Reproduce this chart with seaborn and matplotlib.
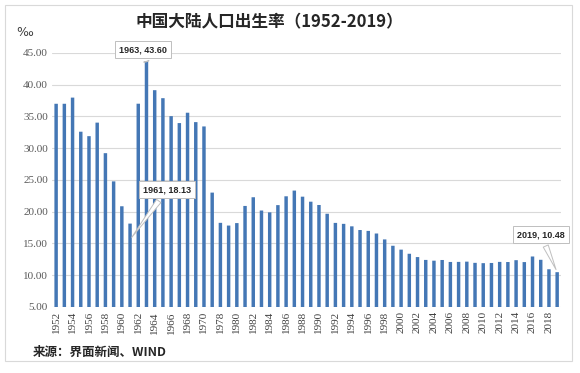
import numpy as np
import pandas as pd
import matplotlib
matplotlib.use("Agg")
import matplotlib.pyplot as plt
import seaborn as sns
from matplotlib.patches import Rectangle

# birth rate (per mille), mainland China; 1971-1974 and 1976-1977 are not in the source chart
years = list(range(1952, 1971)) + [1975] + list(range(1978, 2020))
rates = [37.00, 37.00, 37.97, 32.60, 31.90, 34.03, 29.22, 24.78, 20.86, 18.13,
         37.01, 43.60, 39.14, 37.88, 35.05, 33.96, 35.59, 34.11, 33.43,
         23.01,
         18.25, 17.82, 18.21, 20.91, 22.28, 20.19, 19.90, 21.04, 22.43, 23.33,
         22.37, 21.58, 21.06, 19.68, 18.24, 18.09, 17.70, 17.12, 16.98, 16.57,
         15.64, 14.64, 14.03, 13.38, 12.86, 12.41, 12.29, 12.40, 12.09, 12.10,
         12.14, 11.95, 11.90, 11.93, 12.10, 12.08, 12.37, 12.07, 12.95, 12.43,
         10.94, 10.48]
callouts = [(1963, 43.60), (1961, 18.13), (2019, 10.48)]
yticks = [5, 10, 15, 20, 25, 30, 35, 40, 45]

df = pd.DataFrame({"year": [str(y) for y in years], "rate": rates})

sns.set_theme(style="white")
plt.rcParams['font.family'] = ['Noto Sans CJK SC', 'DejaVu Sans']

fig = plt.figure(figsize=(5.8, 3.73), dpi=100)
ax = fig.add_axes([0.0897, 0.177, 0.878, 0.681])

bar_col = "#4477B5"
sns.barplot(data=df, x="year", y="rate", color=bar_col, width=0.42,
            saturation=1, ax=ax, zorder=3)
for p in ax.patches:
    p.set_snap(False)
    p.set_linewidth(0)

ax.set_ylim(5, 45)
ax.set_xlim(-0.5, len(years) - 0.5)
ax.set_yticks(yticks)
ax.set_yticklabels(["%.2f" % v for v in yticks], family="Liberation Serif",
                   fontsize=8, color="#595959")
idx = list(range(0, len(years), 2))
ax.set_xticks(idx)
ax.set_xticklabels([str(years[i]) for i in idx], rotation=90,
                   family="Liberation Serif", fontsize=8, color="#404040")
ax.tick_params(axis="both", length=0, pad=3)
ax.set_xlabel("")
ax.set_ylabel("")
ax.grid(axis="y", color="#D9D9D9", linewidth=0.8, zorder=0)
ax.grid(axis="x", visible=False)
for s in ax.spines.values():
    s.set_visible(False)

# callout labels
pos = {1963: (10.6, 45.5), 1961: (13.5, 23.45), 2019: (59.0, 16.4)}
tip = {1963: None, 1961: 15.6, 2019: None}
for yr, val in callouts:
    i = years.index(yr)
    ty = tip[yr] if tip[yr] is not None else val
    ax.annotate("%d, %.2f" % (yr, val), xy=(i, ty), xytext=pos[yr],
                ha="center", va="center", fontsize=6.5, fontweight="bold",
                family="Liberation Sans", color="#262626", zorder=6,
                annotation_clip=False,
                bbox=dict(boxstyle="square,pad=0.45", fc="white", ec="#BFBFBF", lw=0.7),
                arrowprops=dict(arrowstyle="wedge,tail_width=0.6,shrink_factor=0.5",
                                fc="white", ec="#BFBFBF", lw=0.7))

fig.text(0.465, 0.94, "中国大陆人口出生率（1952-2019）", ha="center", va="center",
         fontsize=12, fontweight="bold", color="#262626")
fig.text(0.043, 0.913, "‰", ha="center", va="center", fontsize=9,
         color="#404040", family="DejaVu Sans")
fig.text(0.057, 0.056, "来源：界面新闻、WIND", ha="left", va="center",
         fontsize=9, fontweight="bold", color="#262626")

fig.patches.append(Rectangle((5 / 580, 1 - 361 / 373), 567 / 580, 356 / 373,
                             transform=fig.transFigure, fill=False,
                             ec="#D9D9D9", lw=0.8))

fig.savefig("out.png", dpi=100)
